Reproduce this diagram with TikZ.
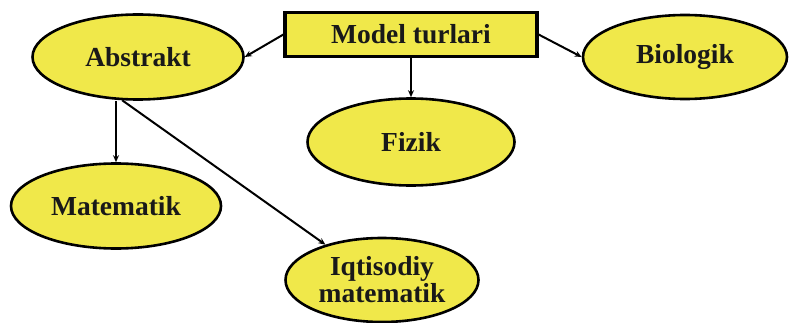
\documentclass[tikz,border=0pt]{standalone}
\usepackage{fontspec}
\setmainfont{Liberation Serif}
\usetikzlibrary{shapes.geometric, arrows.meta}
\definecolor{ovalfill}{RGB}{240,232,74}

\begin{document}
\begin{tikzpicture}[x=1pt, y=1pt, >={Stealth[open, length=7pt, width=6pt]},
    every node/.style={font=\fontsize{27.5}{27}\selectfont\bfseries, text=black!90},
    oval/.style={ellipse, draw, line width=2.6pt, fill=ovalfill, inner sep=0pt},
    titlebox/.style={rectangle, draw, line width=3.2pt, fill=ovalfill,
        minimum width=252pt, minimum height=44pt},
    link/.style={->, line width=2pt}]
    \useasboundingbox (0,0) rectangle (790,322);
    \node [titlebox] (model) at (411,287.5) {Model turlari};
    \node [oval, minimum width=211pt, minimum height=85pt] (abstrakt) at (138,265) {Abstrakt};
    \node [oval, minimum width=204pt, minimum height=84pt] (biologik) at (685,265) {Biologik};
    \node [oval, minimum width=207pt, minimum height=87pt] (fizik) at (411,180) {Fizik};
    \node [oval, minimum width=210pt, minimum height=85pt] (matematik) at (116,116) {Matematik};
    \node [oval, minimum width=193pt, minimum height=84pt, align=center] (iqtisodiy) at (382,42) {Iqtisodiy\\matematik};
    \path [link] (model.west) edge (abstrakt.east);
    \path [link] (model.east) edge (biologik.west);
    \path [link] (model.south) edge (fizik.north);
    \path [link] (abstrakt.south -| matematik.north) edge (matematik.north);
    \path [link] (abstrakt.250) edge (iqtisodiy.148);
\end{tikzpicture}
\end{document}
